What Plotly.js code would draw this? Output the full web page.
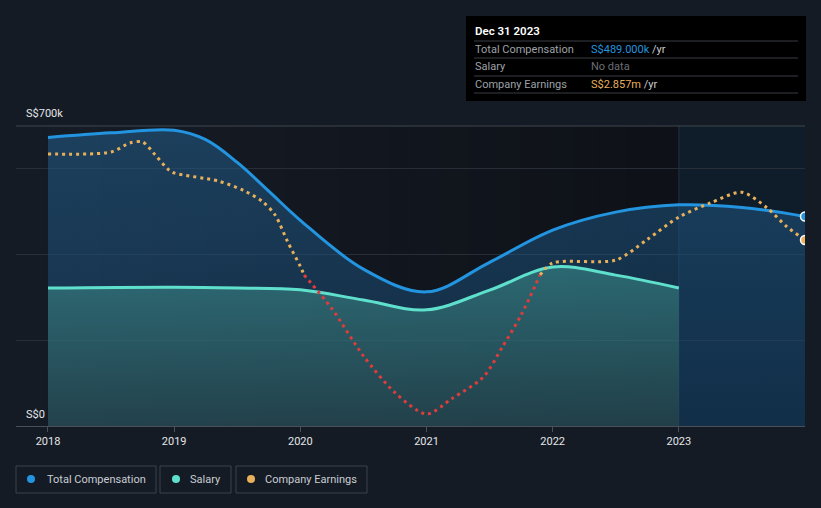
<!DOCTYPE html>
<html>
<head>
<meta charset="utf-8">
<script src="https://cdn.plot.ly/plotly-3.0.1.min.js"></script>
<style>
  html, body { margin: 0; padding: 0; background: #151b25; }
  #chart { width: 821px; height: 508px; }
</style>
</head>
<body>
<div id="chart"></div>
<script>
// ---------- data ----------
const yearTicks = [2018, 2019, 2020, 2021, 2022, 2023];
const yearLabels = ['2018', '2019', '2020', '2021', '2022', '2023'];

// Total compensation, S$ thousands
const compX = [2018, 2018.5, 2019, 2019.25, 2019.5, 2019.75, 2020, 2020.5, 2021, 2021.5, 2022, 2022.5, 2023, 2023.5, 2024];
const compY = [673, 684, 690, 668, 615, 548, 480, 366, 313, 382, 457, 499, 516, 510, 489];

// Salary, S$ thousands
const salX = [2018, 2019, 2019.5, 2020, 2020.5, 2021, 2021.5, 2022, 2022.5, 2023];
const salY = [322, 324, 322, 318, 294, 271, 317, 371, 352, 322];

// Company earnings, S$ millions
const earnX = [2018, 2018.5, 2018.65, 2018.75, 2018.85, 2018.95, 2019, 2019.35, 2019.55, 2019.7, 2019.8, 2019.9, 2020, 2020.03,
               2020.25, 2020.5, 2020.75, 2021, 2021.2, 2021.45, 2021.6, 2021.75, 2021.9,
               2022, 2022.5, 2022.75, 2023, 2023.25, 2023.5, 2023.7, 2023.85, 2024];
const earnY = [9.88, 10.04, 10.78, 10.86, 9.8, 8.65, 8.33, 7.67, 6.9, 6.0, 4.9, 2.7, 0.7, 0,
               -2.75, -6.6, -9.6, -11.35, -10.1, -8.33, -5.9, -3.27, 0,
               0.98, 1.22, 2.9, 4.73, 5.88, 6.75, 5.47, 4.0, 2.857];

const tipDate = 'Dec 31 2023';
const tipComp = 'S$489.000k';
const tipEarn = 'S$2.857m';

// ---------- layout helpers (pixel -> paper) ----------
const L = 16, R = 805, T = 126, B = 426;
const px = p => (p - L) / (R - L);
const py = p => (B - p) / (B - T);

const BG = '#151b25';
const FONT = 'Roboto, "Open Sans", sans-serif';
const BLUE = '#2394df', TEAL = '#5fe0cc', ORANGE = '#e8b05a', RED = '#e03c3c';

const earnPos = earnY.map(v => v >= 0 ? v : null);
const earnNeg = earnY.map(v => v <= 0 ? v : null);

const traces = [
  {
    x: compX, y: compY, type: 'scatter', mode: 'lines',
    line: { color: BLUE, width: 3, shape: 'spline', smoothing: 1 },
    fill: 'tozeroy',
    fillgradient: { type: 'vertical', colorscale: [[0, 'rgba(21,64,102,0.5)'], [1, 'rgba(35,100,150,0.5)']] },
    hoverinfo: 'skip'
  },
  {
    x: salX, y: salY, type: 'scatter', mode: 'lines',
    line: { color: TEAL, width: 3, shape: 'spline', smoothing: 1 },
    fill: 'tozeroy',
    fillgradient: { type: 'vertical', colorscale: [[0, 'rgba(52,90,84,0.45)'], [1, 'rgba(70,170,160,0.45)']] },
    hoverinfo: 'skip'
  },
  {
    x: earnX, y: earnPos, yaxis: 'y2', type: 'scatter', mode: 'lines', connectgaps: false,
    line: { color: ORANGE, width: 3, dash: '3px,4px', shape: 'spline', smoothing: 0.8 },
    hoverinfo: 'skip'
  },
  {
    x: earnX, y: earnNeg, yaxis: 'y2', type: 'scatter', mode: 'lines', connectgaps: false,
    line: { color: RED, width: 3, dash: '3px,4px', shape: 'spline', smoothing: 0.8 },
    hoverinfo: 'skip'
  },
  {
    x: [compX[compX.length - 1]], y: [compY[compY.length - 1]], type: 'scatter', mode: 'markers',
    marker: { size: 9, color: BLUE, line: { color: '#ffffff', width: 1.5 } }, hoverinfo: 'skip'
  },
  {
    x: [earnX[earnX.length - 1]], y: [earnY[earnY.length - 1]], yaxis: 'y2', type: 'scatter', mode: 'markers',
    marker: { size: 9, color: ORANGE, line: { color: '#ffffff', width: 1.5 } }, hoverinfo: 'skip'
  }
];

// ---------- shapes ----------
const shapes = [];
// background gradient of the history region
const c0 = [22, 28, 38], c1 = [14, 17, 23], N = 24;
for (let i = 0; i < N; i++) {
  const t = i / (N - 1);
  const c = c0.map((v, k) => Math.round(v + (c1[k] - v) * t));
  shapes.push({
    type: 'rect', xref: 'x', yref: 'paper', layer: 'below',
    x0: 2018 + 5 * i / N, x1: 2018 + 5 * (i + 1) / N + 0.01, y0: 0, y1: 1,
    fillcolor: `rgb(${c[0]},${c[1]},${c[2]})`, line: { width: 0 }
  });
}
// forecast / last-year region
shapes.push({ type: 'rect', xref: 'x', yref: 'paper', layer: 'below', x0: 2023, x1: 2024, y0: 0, y1: 1,
  fillcolor: '#0f1d2a', line: { width: 0 } });
shapes.push({ type: 'line', xref: 'x', yref: 'paper', layer: 'below', x0: 2023, x1: 2023, y0: 0, y1: 1,
  line: { color: '#1f3142', width: 1 } });
// top grid line (brighter)
shapes.push({ type: 'line', xref: 'paper', yref: 'paper', x0: 0, x1: 1, y0: 1, y1: 1,
  line: { color: '#41464f', width: 1 } });

// tooltip box
shapes.push({ type: 'rect', xref: 'paper', yref: 'paper', x0: px(466), x1: px(806), y0: py(101), y1: py(16),
  fillcolor: '#000000', line: { width: 0 } });
[41, 58, 76, 93].forEach(y => shapes.push({ type: 'line', xref: 'paper', yref: 'paper',
  x0: px(474), x1: px(798), y0: py(y), y1: py(y), line: { color: '#3a3d43', width: 1 } }));

// legend boxes
const legendItems = [
  { x0: 16, x1: 156, dot: 31, tx: 45, color: BLUE, text: 'Total Compensation' },
  { x0: 160, x1: 231, dot: 176, tx: 188, color: TEAL, text: 'Salary' },
  { x0: 236, x1: 367, dot: 251, tx: 263, color: ORANGE, text: 'Company Earnings' }
];
legendItems.forEach(it => {
  shapes.push({ type: 'rect', xref: 'paper', yref: 'paper', x0: px(it.x0), x1: px(it.x1), y0: py(493), y1: py(466),
    fillcolor: BG, line: { color: '#3c424c', width: 1 } });
  shapes.push({ type: 'circle', xref: 'paper', yref: 'paper', x0: px(it.dot - 4), x1: px(it.dot + 4), y0: py(483), y1: py(475),
    fillcolor: it.color, line: { width: 0 } });
});

// ---------- annotations ----------
const ann = [];
const txt = (x, y, text, color, size, extra) => Object.assign({
  xref: 'paper', yref: 'paper', x: px(x), y: py(y), xanchor: 'left', yanchor: 'middle',
  text: text, showarrow: false, font: { family: FONT, size: size || 11, color: color }
}, extra || {});

ann.push(txt(24, 114, 'S$700k', '#e4e6e9', 11));
ann.push(txt(24, 414, 'S$0', '#e4e6e9', 11));

ann.push(txt(473, 31, tipDate, '#ffffff', 11.5, { font: { family: FONT, size: 11.5, color: '#ffffff', weight: 600 } }));
ann.push(txt(473, 49.5, 'Total Compensation', '#9ea2a8', 11));
ann.push(txt(473, 66.5, 'Salary', '#9ea2a8', 11));
ann.push(txt(473, 84.5, 'Company Earnings', '#9ea2a8', 11));
ann.push(txt(589, 49.5, `<span style="color:${BLUE}">${tipComp}</span> /yr`, '#c9ccd0', 11));
ann.push(txt(589, 66.5, 'No data', '#6a6e74', 11));
ann.push(txt(589, 84.5, `<span style="color:${ORANGE}">${tipEarn}</span> /yr`, '#c9ccd0', 11));

legendItems.forEach(it => ann.push(txt(it.tx, 479.5, it.text, '#c9cdd3', 11)));

const layout = {
  width: 821, height: 508,
  margin: { l: L, r: 821 - R, t: T, b: 508 - B, pad: 0 },
  paper_bgcolor: BG, plot_bgcolor: BG,
  showlegend: false, hovermode: false,
  font: { family: FONT, color: '#e4e6e9', size: 11 },
  xaxis: {
    range: [2018 - 32 / 126.2, 2024], tickvals: yearTicks, ticktext: yearLabels,
    ticks: 'outside', ticklen: 5, tickcolor: '#4a4f58', tickwidth: 1,
    showline: true, linecolor: '#4a4f58', linewidth: 1,
    showgrid: false, zeroline: false, fixedrange: true,
    tickfont: { family: FONT, size: 11, color: '#e4e6e9' }
  },
  yaxis: {
    range: [0, 700], tickvals: [0, 200, 400, 600, 700], showticklabels: false,
    showgrid: true, gridcolor: '#282e37', gridwidth: 1, zeroline: false, showline: false, ticks: '', fixedrange: true
  },
  yaxis2: {
    overlaying: 'y', range: [-12.326, 12.163], visible: false, showgrid: false, zeroline: false, fixedrange: true
  },
  shapes: shapes,
  annotations: ann
};

Plotly.newPlot('chart', traces, layout, { displayModeBar: false, staticPlot: true });
</script>
</body>
</html>
